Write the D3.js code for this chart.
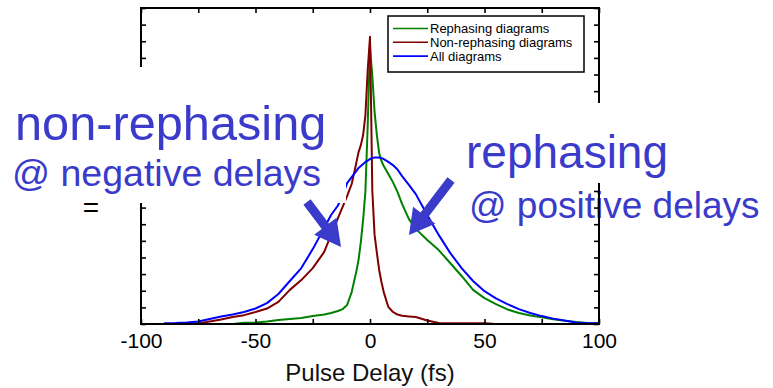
<!DOCTYPE html>
<html>
<head>
<meta charset="utf-8">
<script src="https://cdn.jsdelivr.net/npm/d3@7/dist/d3.min.js"></script>
<style>
  html, body { margin: 0; padding: 0; background: #fff; }
  svg { display: block; font-family: "Liberation Sans", Arial, Helvetica, sans-serif; }
</style>
</head>
<body>
<svg id="chart" width="773" height="388"></svg>
<script>
// Pulse delay grid (fs) shared by the three signals
const delays = [-90,-85,-80,-75,-70,-65,-60,-55,-50,-45,-40,-35,-30,-25,-20,
  -17,-14,-12,-10,-8,-6,-5,-4,-3,-2,-1,0,0.5,1,2,3,4,5,6,8,10,12,14,17,20,
  25,30,35,40,45,50,55,60,65,70,75,80,85,90,95,100];

// Signal amplitude (fraction of the vertical axis)
const rephasing = [0,0,0,0,0,0,0,0.004,0.005,0.008,0.013,0.016,0.019,0.025,0.030,
  0.035,0.041,0.047,0.060,0.101,0.165,0.203,0.26,0.33,0.42,0.63,0.883,0.83,0.788,0.671,0.598,0.541,0.516,0.5,0.475,0.449,0.418,0.380,0.332,0.301,
  0.266,0.234,0.193,0.152,0.108,0.082,0.063,0.046,0.035,0.027,0.021,0.015,0.010,0.006,0.003,0.002];

const nonRephasing = [0,0,0,0.002,0.008,0.014,0.022,0.028,0.038,0.049,0.070,0.108,0.139,0.177,0.228,
  0.282,0.335,0.370,0.405,0.443,0.509,0.544,0.566,0.598,0.661,0.804,0.909,0.677,0.424,0.282,0.225,0.171,0.133,0.101,0.054,0.038,0.030,0.026,0.024,0.022,
  0.011,0.003,0.002,0.002,0.002,0.002,0,0,0,0,0,0,0,0,0,0];

const allDiagrams = [0.002,0.003,0.005,0.008,0.016,0.024,0.030,0.038,0.049,0.066,0.095,0.136,0.177,0.237,0.304,
  0.345,0.375,0.406,0.446,0.465,0.484,0.494,0.500,0.506,0.513,0.517,0.522,0.524,0.525,0.527,0.527,0.527,0.525,0.522,0.513,0.503,0.489,0.468,0.440,0.411,
  0.345,0.282,0.225,0.177,0.136,0.104,0.081,0.063,0.047,0.035,0.025,0.017,0.011,0.005,0.002,0.002];

const seriesNames = ["Rephasing diagrams", "Non-rephasing diagrams", "All diagrams"];
const seriesColors = ["#008000", "#800000", "#0000ff"];
const xTickValues = [-100,-75,-50,-25,0,25,50,75,100];
const xTickLabels = ["-100","","-50","","0","","50","","100"];
const xTitle = "Pulse Delay (fs)";

const svg = d3.select("#chart");
const plotL = 141, plotR = 599, plotT = 8, plotB = 324;

const x = d3.scaleLinear().domain([-100, 100]).range([plotL, plotR]);
const y = d3.scaleLinear().domain([0, 1]).range([plotB, plotT]);
const yTicks = d3.range(0, 20).map(k => k / 19);

const ink = "#3a3acb";

// Annotation sitting behind the frame
svg.append("text")
  .attr("x", 469).attr("y", 218)
  .attr("font-size", 37).attr("fill", ink)
  .text("@ positive delays");

const plot = svg.append("g");

plot.append("clipPath").attr("id", "clip")
  .append("rect").attr("x", plotL).attr("y", plotT)
  .attr("width", plotR - plotL).attr("height", plotB - plotT);

const line = d3.line().x(d => x(d[0])).y(d => y(d[1]));
const series = [rephasing, nonRephasing, allDiagrams];
series.forEach((vals, i) => {
  plot.append("path")
    .datum(delays.map((d, j) => [d, vals[j]]))
    .attr("clip-path", "url(#clip)")
    .attr("fill", "none")
    .attr("stroke", seriesColors[i])
    .attr("stroke-width", 2)
    .attr("stroke-linejoin", "round")
    .attr("d", line);
});

// Axes with inward ticks on all four sides
const styleAxis = g => {
  g.select(".domain").remove();
  g.selectAll(".tick line").attr("stroke", "#000").attr("stroke-width", 1.6);
};

plot.append("g").attr("transform", `translate(0,${plotB})`)
  .call(d3.axisBottom(x).tickValues(xTickValues)
    .tickFormat((d, i) => xTickLabels[i]).tickSizeInner(-5).tickSizeOuter(0).tickPadding(9))
  .call(styleAxis)
  .call(g => g.selectAll(".tick text").attr("font-size", 21).attr("fill", "#000")
    .attr("font-family", "Liberation Sans, Arial, sans-serif"));

plot.append("g").attr("transform", `translate(0,${plotT})`)
  .call(d3.axisTop(x).tickValues(xTickValues).tickFormat("").tickSizeInner(-5).tickSizeOuter(0))
  .call(styleAxis);

plot.append("g").attr("transform", `translate(${plotL},0)`)
  .call(d3.axisLeft(y).tickValues(yTicks).tickFormat("").tickSizeInner(-5).tickSizeOuter(0))
  .call(styleAxis);

plot.append("g").attr("transform", `translate(${plotR},0)`)
  .call(d3.axisRight(y).tickValues(yTicks).tickFormat("").tickSizeInner(-5).tickSizeOuter(0))
  .call(styleAxis);

plot.append("rect")
  .attr("x", plotL).attr("y", plotT)
  .attr("width", plotR - plotL).attr("height", plotB - plotT)
  .attr("fill", "none").attr("stroke", "#000").attr("stroke-width", 2);

plot.append("text")
  .attr("x", x(0)).attr("y", 381)
  .attr("text-anchor", "middle").attr("font-size", 24).attr("fill", "#111")
  .text(xTitle);

// Legend
const legend = plot.append("g");
legend.append("rect")
  .attr("x", 388).attr("y", 16).attr("width", 196).attr("height", 56)
  .attr("fill", "#fff").attr("stroke", "#000").attr("stroke-width", 1.5);
seriesNames.forEach((name, i) => {
  const cy = 28.5 + i * 13.8;
  legend.append("line")
    .attr("x1", 393).attr("x2", 428).attr("y1", cy).attr("y2", cy)
    .attr("stroke", seriesColors[i]).attr("stroke-width", 1.6);
  legend.append("text")
    .attr("x", 430).attr("y", cy + 4.6)
    .attr("font-size", 13).attr("fill", "#000")
    .text(name);
});

// Text panels laid over the plot
svg.append("rect").attr("x", 0).attr("y", 67).attr("width", 346).attr("height", 136).attr("fill", "#fff");
svg.append("rect").attr("x", 455).attr("y", 103).attr("width", 318).attr("height", 80).attr("fill", "#fff");

svg.append("text").attr("x", 15).attr("y", 140)
  .attr("font-size", 48.7).attr("fill", ink).text("non-rephasing");
svg.append("text").attr("x", 12).attr("y", 186)
  .attr("font-size", 37.5).attr("fill", ink).text("@ negative delays");
svg.append("text").attr("x", 466).attr("y", 168)
  .attr("font-size", 46).attr("fill", ink).text("rephasing");
svg.append("text").attr("x", 91).attr("y", 217)
  .attr("text-anchor", "middle").attr("font-size", 28).attr("fill", "#000").text("=");

// Block arrows pointing at the curve wings
function arrow(sx, sy, tx, ty, shaft, headLen, headW) {
  const dx = tx - sx, dy = ty - sy, len = Math.hypot(dx, dy);
  const ux = dx / len, uy = dy / len, nx = -uy, ny = ux;
  const bx = tx - ux * headLen, by = ty - uy * headLen;
  const pts = [
    [sx + nx * shaft / 2, sy + ny * shaft / 2],
    [bx + nx * shaft / 2, by + ny * shaft / 2],
    [bx + nx * headW / 2, by + ny * headW / 2],
    [tx, ty],
    [bx - nx * headW / 2, by - ny * headW / 2],
    [bx - nx * shaft / 2, by - ny * shaft / 2],
    [sx - nx * shaft / 2, sy - ny * shaft / 2]
  ];
  svg.append("path").attr("d", d3.line()(pts) + "Z").attr("fill", ink);
}
arrow(307, 202, 341, 247, 9, 26, 28);
arrow(451, 180, 409, 235, 9, 25, 28);
</script>
</body>
</html>
